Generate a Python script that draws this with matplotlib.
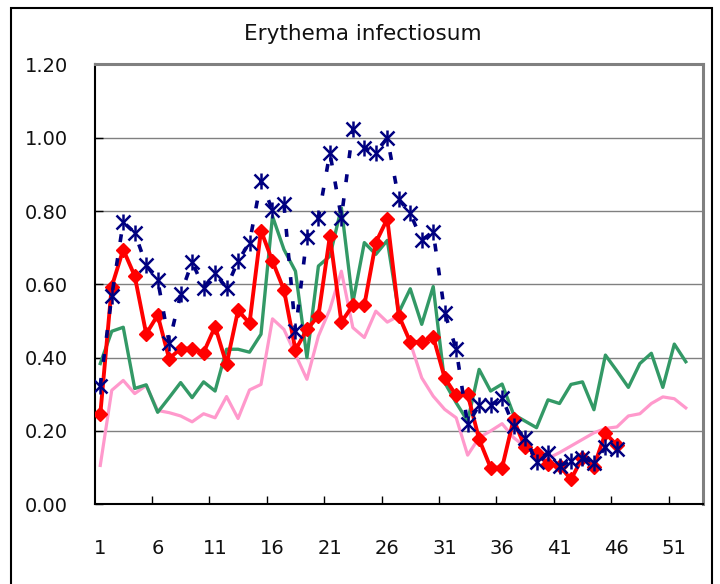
import matplotlib
matplotlib.use("Agg")
import matplotlib.pyplot as plt
import matplotlib.patches as patches

plt.rcParams['font.family'] = ['DejaVu Sans']

# weekly values
weeks = list(range(1, 53))
pink = [0.106, 0.311, 0.338, 0.302, 0.324, 0.256, 0.250, 0.241, 0.225, 0.247,
        0.236, 0.294, 0.234, 0.312, 0.327, 0.506, 0.477, 0.409, 0.341, 0.459,
        0.532, 0.636, 0.482, 0.455, 0.527, 0.497, 0.514, 0.441, 0.345, 0.295,
        0.259, 0.236, 0.134, 0.182, 0.200, 0.220, 0.182, 0.157, 0.136, 0.125,
        0.141, 0.159, 0.177, 0.195, 0.207, 0.211, 0.241, 0.247, 0.275, 0.293,
        0.288, 0.263]
green = [0.384, 0.472, 0.483, 0.316, 0.326, 0.251, 0.291, 0.332, 0.291, 0.334,
         0.309, 0.423, 0.423, 0.415, 0.464, 0.786, 0.695, 0.636, 0.400, 0.650,
         0.677, 0.809, 0.550, 0.714, 0.682, 0.720, 0.523, 0.588, 0.491, 0.594,
         0.332, 0.277, 0.227, 0.368, 0.309, 0.328, 0.245, 0.227, 0.209, 0.285,
         0.275, 0.327, 0.334, 0.258, 0.407, 0.364, 0.319, 0.384, 0.412, 0.319,
         0.437, 0.389]
red = [0.245, 0.594, 0.695, 0.623, 0.465, 0.516, 0.397, 0.425, 0.425, 0.414,
       0.485, 0.382, 0.529, 0.494, 0.747, 0.663, 0.585, 0.421, 0.477, 0.514,
       0.732, 0.497, 0.543, 0.543, 0.714, 0.779, 0.515, 0.443, 0.443, 0.457,
       0.345, 0.297, 0.300, 0.177, 0.100, 0.100, 0.232, 0.155, 0.141, 0.109,
       0.105, 0.068, 0.127, 0.103, 0.194, 0.161]
navy = [0.323, 0.568, 0.770, 0.741, 0.652, 0.612, 0.441, 0.573, 0.661, 0.591,
        0.630, 0.591, 0.664, 0.714, 0.882, 0.802, 0.818, 0.473, 0.730, 0.782,
        0.959, 0.782, 1.023, 0.973, 0.959, 1.000, 0.832, 0.794, 0.721, 0.743,
        0.523, 0.423, 0.218, 0.270, 0.270, 0.291, 0.214, 0.182, 0.116, 0.141,
        0.105, 0.118, 0.127, 0.114, 0.155, 0.150]
xlabels = [1, 6, 11, 16, 21, 26, 31, 36, 41, 46, 51]
ylabels = ["0.00", "0.20", "0.40", "0.60", "0.80", "1.00", "1.20"]

fig = plt.figure(figsize=(7.2, 5.84), dpi=100)
ax = fig.add_axes([0.1313, 0.1365, 0.8451, 0.7531])

ax.plot(weeks, pink, color="#FF99CC", lw=2.3, zorder=3)
ax.plot(weeks, green, color="#339966", lw=2.4, zorder=4)
ax.plot(weeks[:len(red)], red, color="#FF0000", lw=2.8, marker="D",
        markersize=7.5, zorder=5)
nw = weeks[:len(navy)]
ax.plot(nw, navy, color="#000080", lw=2.6, linestyle=(0, (2.2, 4.5)), zorder=6)
ax.plot(nw, navy, color="#000080", lw=0, marker="x", markersize=9.5,
        markeredgewidth=1.8, zorder=7)
ax.plot(nw, navy, color="#000080", lw=0, marker="|", markersize=11.5,
        markeredgewidth=1.8, zorder=7)

ax.set_xlim(0.5, 53.5)
ax.set_ylim(0, 1.2)
yt = [0.2 * i for i in range(7)]
ax.set_yticks(yt)
ax.set_yticklabels(ylabels)
ax.yaxis.grid(True, color="#808080", lw=1.0)
ax.set_axisbelow(True)

# tick marks between categories, labels on the categories
ax.set_xticks([0.5 + 5 * k for k in range(1, 11)])
ax.set_xticklabels([])
ax.set_xticks(xlabels, minor=True)
ax.set_xticklabels([str(v) for v in xlabels], minor=True)
ax.tick_params(axis="x", which="major", direction="in", length=6, width=1, color="black")
ax.tick_params(axis="x", which="minor", length=0, pad=25, labelsize=14, labelcolor="#111111")
ax.tick_params(axis="y", direction="in", length=6, width=1, pad=19, labelsize=14,
               labelcolor="#111111")

for s in ["left", "bottom"]:
    ax.spines[s].set_color("black")
    ax.spines[s].set_linewidth(1.5)
for s in ["top", "right"]:
    ax.spines[s].set_color("#808080")
    ax.spines[s].set_linewidth(2.2)

fig.text(363 / 720, 1 - 34 / 584, "Erythema infectiosum", ha="center", va="center",
         fontsize=15.5, color="#111111")

# chart area border
fig.patches.append(patches.Rectangle((10.5 / 720, -0.02), 701.5 / 720, 1 - 7.5 / 584 + 0.02,
                                     transform=fig.transFigure, fill=False,
                                     edgecolor="black", lw=1.5))

fig.savefig("out.png", dpi=100)
